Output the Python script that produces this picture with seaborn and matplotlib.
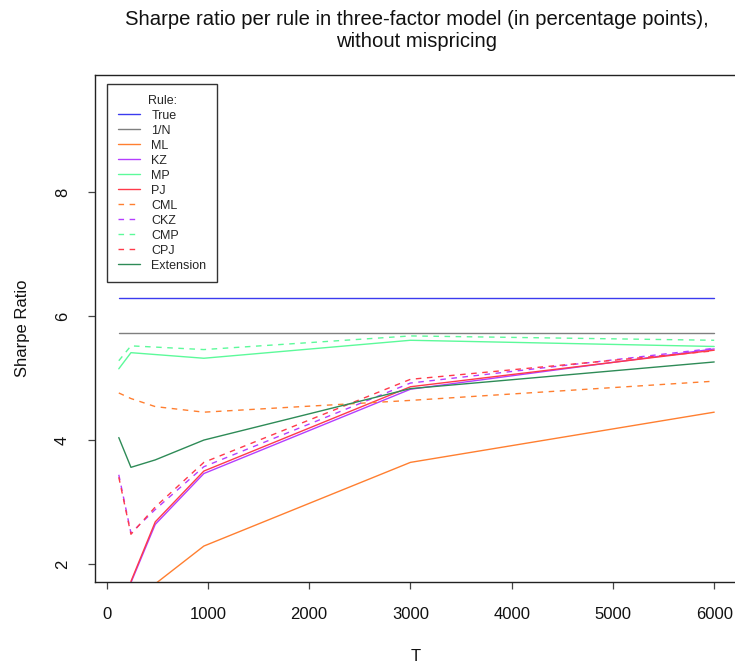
import numpy as np
import pandas as pd
import matplotlib
matplotlib.use("Agg")
import matplotlib.pyplot as plt
import seaborn as sns

# Sample sizes and Sharpe ratios (percentage points) per allocation rule
T_values = [120, 240, 480, 960, 3000, 6000]
sr_true = [6.30, 6.30, 6.30, 6.30, 6.30, 6.30]
sr_1n = [5.73, 5.73, 5.73, 5.73, 5.73, 5.73]
sr_ml = [np.nan, np.nan, 1.68, 2.29, 3.64, 4.45]
sr_kz = [np.nan, 1.70, 2.64, 3.46, 4.82, 5.47]
sr_mp = [5.15, 5.41, 5.38, 5.32, 5.61, 5.51]
sr_pj = [np.nan, 1.72, 2.68, 3.50, 4.86, 5.45]
sr_cml = [4.76, 4.67, 4.54, 4.45, 4.64, 4.95]
sr_ckz = [3.44, 2.50, 2.88, 3.57, 4.92, 5.48]
sr_cmp = [5.28, 5.52, 5.50, 5.46, 5.68, 5.61]
sr_cpj = [3.40, 2.48, 2.92, 3.64, 4.98, 5.44]
sr_ext = [4.04, 3.56, 3.68, 4.00, 4.83, 5.26]

rules = ["True", "1/N", "ML", "KZ", "MP", "PJ", "CML", "CKZ", "CMP", "CPJ", "Extension"]
series = [sr_true, sr_1n, sr_ml, sr_kz, sr_mp, sr_pj, sr_cml, sr_ckz, sr_cmp, sr_cpj, sr_ext]

colors = {
    "True": "#3B3BEF", "1/N": "#7F7F7F", "ML": "#FF7F30", "KZ": "#B43EFF",
    "MP": "#5CFA9A", "PJ": "#FF3A4A", "CML": "#FF7F30", "CKZ": "#B43EFF",
    "CMP": "#5CFA9A", "CPJ": "#FF3A4A", "Extension": "#2E8B57",
}
dashed = {"CML", "CKZ", "CMP", "CPJ"}

df = pd.DataFrame({
    "T": np.tile(T_values, len(rules)),
    "Sharpe": np.concatenate([np.asarray(s, dtype=float) for s in series]),
    "Rule": np.repeat(rules, len(T_values)),
})

sns.set_style("white")
plt.rcParams["font.family"] = ["Liberation Sans", "DejaVu Sans"]

fig = plt.figure(figsize=(7.35, 6.68), dpi=100)
W, H = 735, 668
left, right, top, bottom = 95, 738, 75, 582
ax = fig.add_axes([left / W, (H - bottom) / H, (right - left) / W, (bottom - top) / H])

for rule in rules:
    sub = df[df["Rule"] == rule].dropna()
    sns.lineplot(
        data=sub, x="T", y="Sharpe", ax=ax, color=colors[rule], label=rule,
        linewidth=1.0, linestyle=(0, (4, 4)) if rule in dashed else "-",
        errorbar=None, sort=True,
    )

ax.set_xlim(-115, 6235)
ax.set_ylim(1.71, 9.89)
ax.set_xticks([0, 1000, 2000, 3000, 4000, 5000, 6000])
ax.set_yticks([2, 4, 6, 8])
ax.set_yticklabels(["2", "4", "6", "8"], rotation=90, va="center")

for sp in ax.spines.values():
    sp.set_visible(True)
    sp.set_color("#222222")
    sp.set_linewidth(1.0)

ax.tick_params(axis="both", which="major", bottom=True, left=True, direction="out",
               length=5, width=0.9, color="#444444", labelsize=12, pad=13,
               labelcolor="#111111")

ax.set_xlabel("T", fontsize=12, color="#111111")
ax.set_ylabel("Sharpe Ratio", fontsize=12, color="#111111")
ax.xaxis.label.set_va("center")
ax.yaxis.label.set_va("center")
ax.xaxis.set_label_coords(0.499, -0.146)
ax.yaxis.set_label_coords(-0.112, 0.5)

ax.set_title("Sharpe ratio per rule in three-factor model (in percentage points),\n"
             "without mispricing", fontsize=14.6, pad=20, linespacing=1.2, color="#111111")

leg = ax.legend(
    title="Rule:", loc="upper left", bbox_to_anchor=((107 - left) / (right - left), (bottom - 84) / (bottom - top)),
    fontsize=9, title_fontsize=9, frameon=True, fancybox=False, framealpha=1,
    edgecolor="#333333", handlelength=1.8, handletextpad=0.9, labelspacing=0.24,
    borderpad=0.85, borderaxespad=0,
)
leg.get_frame().set_linewidth(1.0)

fig.savefig("out.png", dpi=100)
